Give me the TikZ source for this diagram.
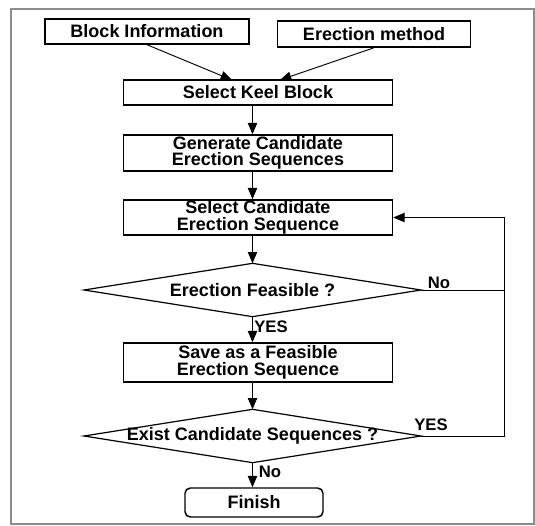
\documentclass[tikz,border=0pt]{standalone}
\usepackage{fontspec}
\setmainfont{Liberation Sans}
\usepackage{tikz}
\usetikzlibrary{arrows.meta,shapes.geometric}
\definecolor{framegray}{gray}{0.55}

\begin{document}
\begin{tikzpicture}[x=0.75pt,y=-0.75pt,
    proc/.style={draw,line width=1.1pt,align=center,inner sep=0pt,
      font=\bfseries\fontsize{13.5}{12.5}\selectfont},
    decision/.style={draw,diamond,line width=0.9pt,inner sep=0pt,outer sep=0pt,
      minimum width=252.75pt,minimum height=40pt},
    dtext/.style={font=\bfseries\fontsize{13.5}{12.5}\selectfont,inner sep=0pt},
    lbl/.style={font=\bfseries\fontsize{12.5}{12}\selectfont,inner sep=0pt},
    arr/.style={-{Triangle[length=8.5pt,width=7pt]},line width=0.7pt}]
        \useasboundingbox (0,0) rectangle (535,525);
        \draw[framegray,line width=0.8pt] (11,9) rectangle (534,524);
        % inputs
        \node[proc,minimum width=153pt,minimum height=18.75pt] (info) at (147,31.5) {Block Information};
        \node[proc,minimum width=145pt,minimum height=19.5pt] (method) at (374,34) {Erection method};
        % main column
        \node[proc,minimum width=201.75pt,minimum height=18.75pt] (keel) at (258,92.5) {Select Keel Block};
        \node[proc,minimum width=201.75pt,minimum height=27pt] (gen) at (258,153) {Generate Candidate\\Erection Sequences};
        \node[proc,minimum width=201.75pt,minimum height=26.25pt] (cand) at (258,217.5) {Select Candidate\\Erection Sequence};
        \node[decision] (feas) at (252.5,290) {};
        \node[dtext] (feastext) at (feas) {Erection Feasible ?};
        \node[proc,minimum width=201.75pt,minimum height=29.25pt] (save) at (258,362.5) {Save as a Feasible\\Erection Sequence};
        \node[decision] (exist) at (252.5,436) {};
        \node[dtext] (existtext) at (exist) {Exist Candidate Sequences ?};
        \node[proc,rounded corners=4pt,minimum width=103.5pt,minimum height=21.75pt] (finish) at (254,502.5) {Finish};
        \coordinate (keelL) at (232,80);
        \coordinate (keelR) at (280,80);
        \coordinate (loop) at (504,290);
        % connectors
        \draw[arr] (info.south) -- (keelL);
        \draw[arr] (method.south) -- (keelR);
        \draw[arr] (keel.south -| feas.north) -- (gen.north -| feas.north);
        \draw[arr] (gen.south -| feas.north) -- (cand.north -| feas.north);
        \draw[arr] (cand.south -| feas.north) -- (feas.north);
        \draw[arr] (feas.south) -- (save.north -| feas.south);
        \draw[arr] (save.south -| exist.north) -- (exist.north);
        \draw[arr] (exist.south) -- (finish.north -| exist.south);
        \draw[arr] (feas.east) -- (loop) |- (cand.east);
        \draw[line width=0.7pt] (exist.east) -| (loop);
        % branch labels
        \node[lbl] (feasno) at (439,283) {No};
        \node[lbl] (feasyes) at (271,327) {YES};
        \node[lbl] (existyes) at (431,425) {YES};
        \node[lbl] (existno) at (270,472) {No};
\end{tikzpicture}
\end{document}
